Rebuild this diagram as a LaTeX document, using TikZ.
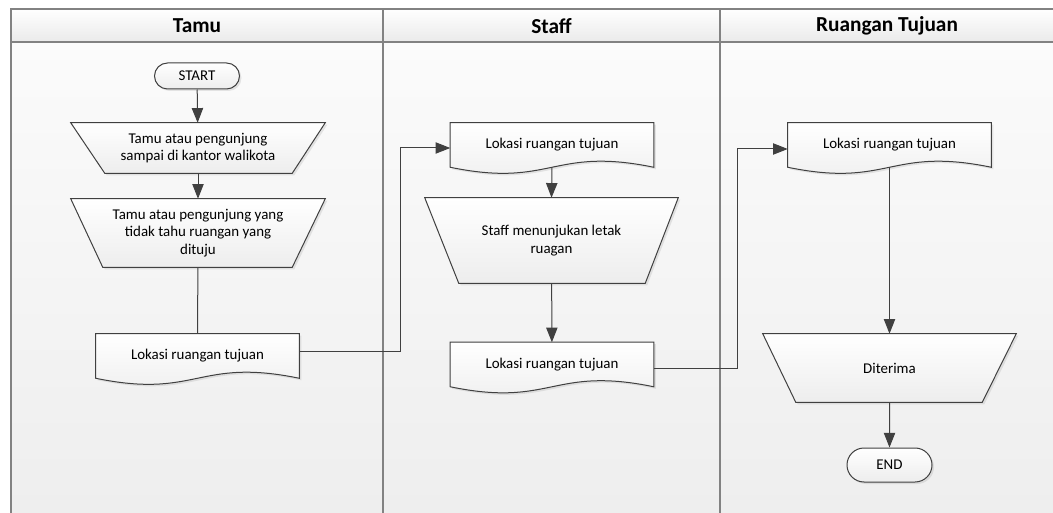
\documentclass[tikz,border=0pt]{standalone}
\usepackage{fontspec}
\setmainfont{Carlito}
\usetikzlibrary{calc,arrows.meta,shapes.misc,shadows}

\pgfdeclarelayer{lanes}
\pgfdeclarelayer{shapes}
\pgfsetlayers{lanes,shapes,main}

\definecolor{edge}{HTML}{404040}
\definecolor{frameline}{HTML}{828282}
\definecolor{laneTop}{HTML}{FBFBFB}
\definecolor{laneBot}{HTML}{EEEEEE}
\definecolor{headTop}{HTML}{FFFFFF}
\definecolor{headBot}{HTML}{EAEAEA}
\definecolor{shapeBot}{HTML}{EDEDED}

\tikzset{
  flowtext/.style={font=\fontsize{11.2}{13}\selectfont, align=center, inner sep=0pt},
  lanetitle/.style={font=\fontsize{16}{18}\selectfont\bfseries},
  shapefill/.style={draw=edge, line width=0.75pt, top color=white, bottom color=shapeBot,
    drop shadow={shadow xshift=1.5pt, shadow yshift=-1.5pt, opacity=0.18}},
  terminal/.style={flowtext, rounded rectangle, shapefill, minimum width=63.75pt},
  slot/.style={flowtext},
  frame/.style={draw=frameline, line width=1.5pt},
  flowline/.style={draw=edge, line width=0.75pt},
  flowarrow/.style={flowline, -{Triangle[length=11pt,width=8.5pt]}}
}

\begin{document}
\begin{tikzpicture}[x=0.75pt,y=-0.75pt]
\useasboundingbox (0,0) rectangle (1053,513);

% swimlane background and frame
\begin{pgfonlayer}{lanes}
  \fill[white] (0,0) rectangle (1053,513);
  \fill[top color=headTop, bottom color=headBot] (11,9) rectangle (1053,42);
  \fill[top color=laneTop, bottom color=laneBot] (11,42) rectangle (1053,513);
  \draw[frame] (1053,9) -- (11,9) -- (11,513);
  \draw[frame] (11,42) -- (1053,42);
  \draw[frame] (383,9) -- (383,513);
  \draw[frame] (720,9) -- (720,513);
\end{pgfonlayer}

% lane titles
\node[lanetitle] (h1) at (197,26) {Tamu};
\node[lanetitle] (h2) at (551.5,26) {Staff};
\node[lanetitle] (h3) at (887,26) {Ruangan Tujuan};

% terminators
\node[terminal, minimum height=19.5pt] (start) at (197,76) {START};
\node[terminal, minimum height=25.5pt] (end) at (889.5,465) {END};

% text slots of the manual operations
\node[slot, minimum width=190.5pt, minimum height=37.5pt] (t1) at (198,148)
  {Tamu atau pengunjung\\sampai di kantor walikota};
\node[slot, minimum width=190.5pt, minimum height=51pt] (t2) at (198,233)
  {Tamu atau pengunjung yang\\tidak tahu ruangan yang\\dituju};
\node[slot, minimum width=189.75pt, minimum height=63.75pt] (t3) at (551.5,240.5)
  {Staff menunjukan letak\\ruagan};
\node[slot, minimum width=189.75pt, minimum height=51pt] (t4) at (889.5,368)
  {Diterima};

% text slots of the documents
\node[slot, minimum width=152.25pt, minimum height=33pt] (d1) at (197.5,356) {Lokasi ruangan tujuan};
\node[slot, minimum width=152.25pt, minimum height=33pt] (d2) at (552,145) {Lokasi ruangan tujuan};
\node[slot, minimum width=152.25pt, minimum height=33pt] (d3) at (552,364.5) {Lokasi ruangan tujuan};
\node[slot, minimum width=152.25pt, minimum height=33pt] (d4) at (889.5,145) {Lokasi ruangan tujuan};

% shape outlines behind the texts
\begin{pgfonlayer}{shapes}
  \path[shapefill] (t1.north west) -- (t1.north east) -- ($(t1.south east)+(-33,0)$)
    -- ($(t1.south west)+(34,0)$) -- cycle;
  \path[shapefill] (t2.north west) -- (t2.north east) -- ($(t2.south east)+(-33,0)$)
    -- ($(t2.south west)+(32,0)$) -- cycle;
  \path[shapefill] (t3.north west) -- (t3.north east) -- ($(t3.south east)+(-33,0)$)
    -- ($(t3.south west)+(34,0)$) -- cycle;
  \path[shapefill] (t4.north west) -- (t4.north east) -- ($(t4.south east)+(-34,0)$)
    -- ($(t4.south west)+(33,0)$) -- cycle;
  \foreach \d in {d1,d2,d3,d4} {
    \path[shapefill] (\d.north west) -- (\d.south west)
      .. controls ($(\d.south)+(0,21)$) and ($(\d.south)+(0,-21)$) .. (\d.south east)
      -- (\d.north east) -- cycle;
  }
\end{pgfonlayer}

% bends of the lane-crossing connectors
\coordinate (k1) at (400,351);
\coordinate (k2) at (400,148);
\coordinate (k3) at (737,368);
\coordinate (k4) at (737,149);

% connectors
\draw[flowarrow] (start) -- (t1);
\draw[flowarrow] (t1) -- (t2);
\draw[flowline] (t2) -- (d1);
\draw[flowarrow] (d1.east |- k1) -- (k1) -- (k2) -- (d2.west |- k2);
\draw[flowarrow] (d2.south) -- (t3.north);
\draw[flowarrow] (t3) -- (d3);
\draw[flowarrow] (d3.east |- k3) -- (k3) -- (k4) -- (d4.west |- k4);
\draw[flowarrow] (d4.south) -- (t4.north);
\draw[flowarrow] (t4) -- (end);
\end{tikzpicture}
\end{document}
